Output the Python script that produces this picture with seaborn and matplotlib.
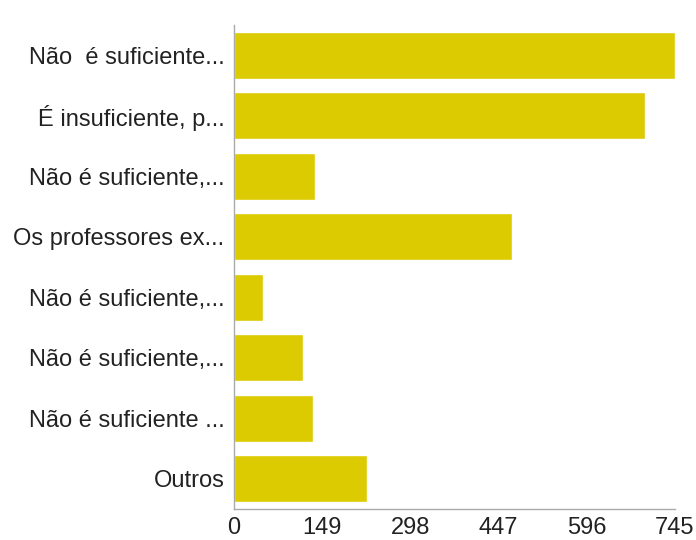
import matplotlib
matplotlib.use('Agg')
import matplotlib.pyplot as plt
import seaborn as sns
import pandas as pd

categorias = ['Não  é suficiente...', 'É insuficiente, p...', 'Não é suficiente,...',
              'Os professores ex...', 'Não é suficiente,... ', 'Não é suficiente,...  ',
              'Não é suficiente ...', 'Outros']
valores = [745, 695, 137, 469, 49, 117, 133, 225]
ticks = [0, 149, 298, 447, 596, 745]

sns.set_style('white')
plt.rcParams['font.family'] = ['Liberation Sans', 'DejaVu Sans']

df = pd.DataFrame({'cat': categorias, 'val': valores})

fig = plt.figure(figsize=(6.96, 5.4), dpi=100)
ax = fig.add_axes([234 / 696, 1 - 509 / 540, (675 - 234) / 696, (509 - 25) / 540])
sns.barplot(data=df, x='val', y='cat', color='#dccb00', saturation=1,
            width=0.78, orient='h', ax=ax)

ax.set_xlim(0, 745)
ax.set_ylim(7.5, -0.5)
ax.set_xticks(ticks)
ax.set_xticklabels([str(t) for t in ticks])
ax.set_yticks(range(len(categorias)))
ax.set_yticklabels([c.rstrip() for c in categorias])
ax.set_xlabel('')
ax.set_ylabel('')

for s in ['top', 'right']:
    ax.spines[s].set_visible(False)
for s in ['left', 'bottom']:
    ax.spines[s].set_color('#aaaaaa')
    ax.spines[s].set_linewidth(1)
ax.tick_params(axis='both', colors='#aaaaaa', labelcolor='#222222', labelsize=17,
               length=5, width=1, direction='out')
ax.tick_params(axis='y', pad=2)
ax.tick_params(axis='x', pad=1)

fig.savefig('out.png', dpi=100)
